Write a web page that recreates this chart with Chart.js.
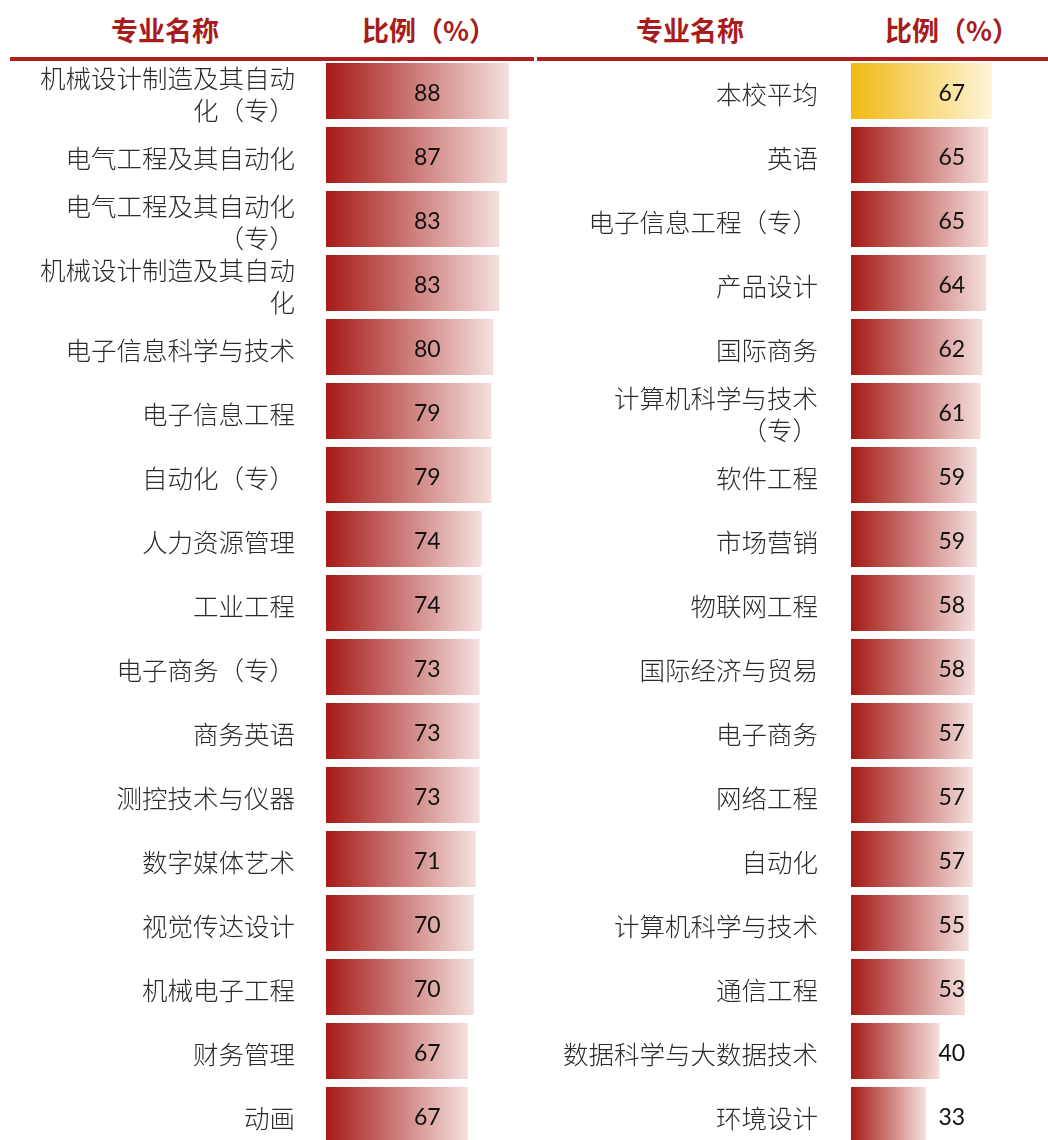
<!DOCTYPE html>
<html>
<head>
<meta charset="utf-8">
<script src="https://cdn.jsdelivr.net/npm/chart.js@4/dist/chart.umd.min.js"></script>
<style>
  html, body { margin: 0; padding: 0; overflow: hidden; background: #fff; width: 1048px; height: 1140px; }
  .head { position: absolute; top: 10px; font-family: "Noto Sans CJK SC", sans-serif; font-weight: bold; font-size: 27px; color: #A81C1C; transform: translateX(-50%); white-space: nowrap; line-height: 40px; }
  .rule { position: absolute; top: 57px; height: 4px; background: #B01E1E; }
  canvas { position: absolute; top: 0; }
</style>
</head>
<body>
<div class="head" style="left:165px">专业名称</div>
<div class="head" style="left:429px">比例（%）</div>
<div class="head" style="left:690px">专业名称</div>
<div class="head" style="left:952px">比例（%）</div>
<div class="rule" style="left:10px;width:524px"></div>
<div class="rule" style="left:537px;width:511px"></div>
<canvas id="leftChart" width="524" height="1152" style="left:0"></canvas>
<canvas id="rightChart" width="524" height="1152" style="left:524px"></canvas>
<script>
// Données : partie gauche
const leftLabels = [
  ['机械设计制造及其自动', '化（专）'], '电气工程及其自动化', ['电气工程及其自动化', '（专）'],
  ['机械设计制造及其自动', '化'], '电子信息科学与技术', '电子信息工程', '自动化（专）',
  '人力资源管理', '工业工程', '电子商务（专）', '商务英语', '测控技术与仪器',
  '数字媒体艺术', '视觉传达设计', '机械电子工程', '财务管理', '动画'
];
const leftValues = [88, 87, 83, 83, 80, 79, 79, 74, 74, 73, 73, 73, 71, 70, 70, 67, 67];

// Données : partie droite
const rightLabels = [
  '本校平均', '英语', '电子信息工程（专）', '产品设计', '国际商务',
  ['计算机科学与技术', '（专）'], '软件工程', '市场营销', '物联网工程', '国际经济与贸易',
  '电子商务', '网络工程', '自动化', '计算机科学与技术', '通信工程',
  '数据科学与大数据技术', '环境设计'
];
const rightValues = [67, 65, 65, 64, 62, 61, 59, 59, 58, 58, 57, 57, 57, 55, 53, 40, 33];

const AXIS_MIN = -5.4;
const AXIS_MAX = 95.6;
const LABEL_POS = 46.3; // colonne des valeurs

const redStops = ['#A51A16', '#F4E0DE'];
const yellowStops = ['#F1B913', '#FEF5DA'];

// Dégradé horizontal pour chaque barre
function barFill(highlightIndex) {
  return function (ctx) {
    const chart = ctx.chart;
    const stops = ctx.dataIndex === highlightIndex ? yellowStops : redStops;
    if (!chart.chartArea || ctx.type !== 'data' || !chart.scales.x) return stops[0];
    const x = chart.scales.x;
    const x0 = x.getPixelForValue(AXIS_MIN);
    const x1 = x.getPixelForValue(ctx.parsed.x);
    const g = chart.ctx.createLinearGradient(x0, 0, x1, 0);
    g.addColorStop(0, stops[0]);
    g.addColorStop(1, stops[1]);
    return g;
  };
}

// Valeurs dans une colonne fixe
const valueLabels = {
  id: 'valueLabels',
  afterDatasetsDraw(chart) {
    const c = chart.ctx;
    const meta = chart.getDatasetMeta(0);
    const xPix = chart.scales.x.getPixelForValue(LABEL_POS);
    c.save();
    c.font = '23px Lato, "Open Sans", sans-serif';
    c.fillStyle = '#111';
    c.textAlign = 'center';
    c.textBaseline = 'middle';
    meta.data.forEach((bar, i) => {
      c.fillText(chart.data.datasets[0].data[i], xPix, bar.y + 3);
    });
    c.restore();
  }
};

function createPanel(canvasId, labels, values, axisWidth, padding, highlightIndex) {
  const ctx = document.getElementById(canvasId).getContext('2d');
  return new Chart(ctx, {
    type: 'bar',
    data: {
      labels: labels,
      datasets: [{
        data: values,
        base: AXIS_MIN,
        backgroundColor: barFill(highlightIndex),
        borderWidth: 0,
        barPercentage: 0.875,
        categoryPercentage: 1
      }]
    },
    options: {
      indexAxis: 'y',
      responsive: false,
      animation: false,
      layout: { padding: { top: 59, bottom: 5, left: 0, right: 0 } },
      scales: {
        x: {
          display: false,
          min: AXIS_MIN,
          max: AXIS_MAX
        },
        y: {
          afterFit(scale) {
            scale.width = axisWidth;
            scale.paddingTop = 0;
            scale.paddingBottom = 0;
          },
          grid: { display: false, drawTicks: false },
          border: { display: false },
          ticks: {
            padding: padding,
            labelOffset: 3,
            color: '#2b2b2b',
            autoSkip: false,
            font: { family: '"Noto Sans CJK SC", sans-serif', size: 25.5, weight: 300, lineHeight: 1.25 }
          }
        }
      },
      plugins: {
        legend: { display: false },
        tooltip: { enabled: false }
      }
    },
    plugins: [valueLabels]
  });
}

createPanel('leftChart', leftLabels, leftValues, 326, 31, -1);
createPanel('rightChart', rightLabels, rightValues, 327, 33, 0);
</script>
</body>
</html>
